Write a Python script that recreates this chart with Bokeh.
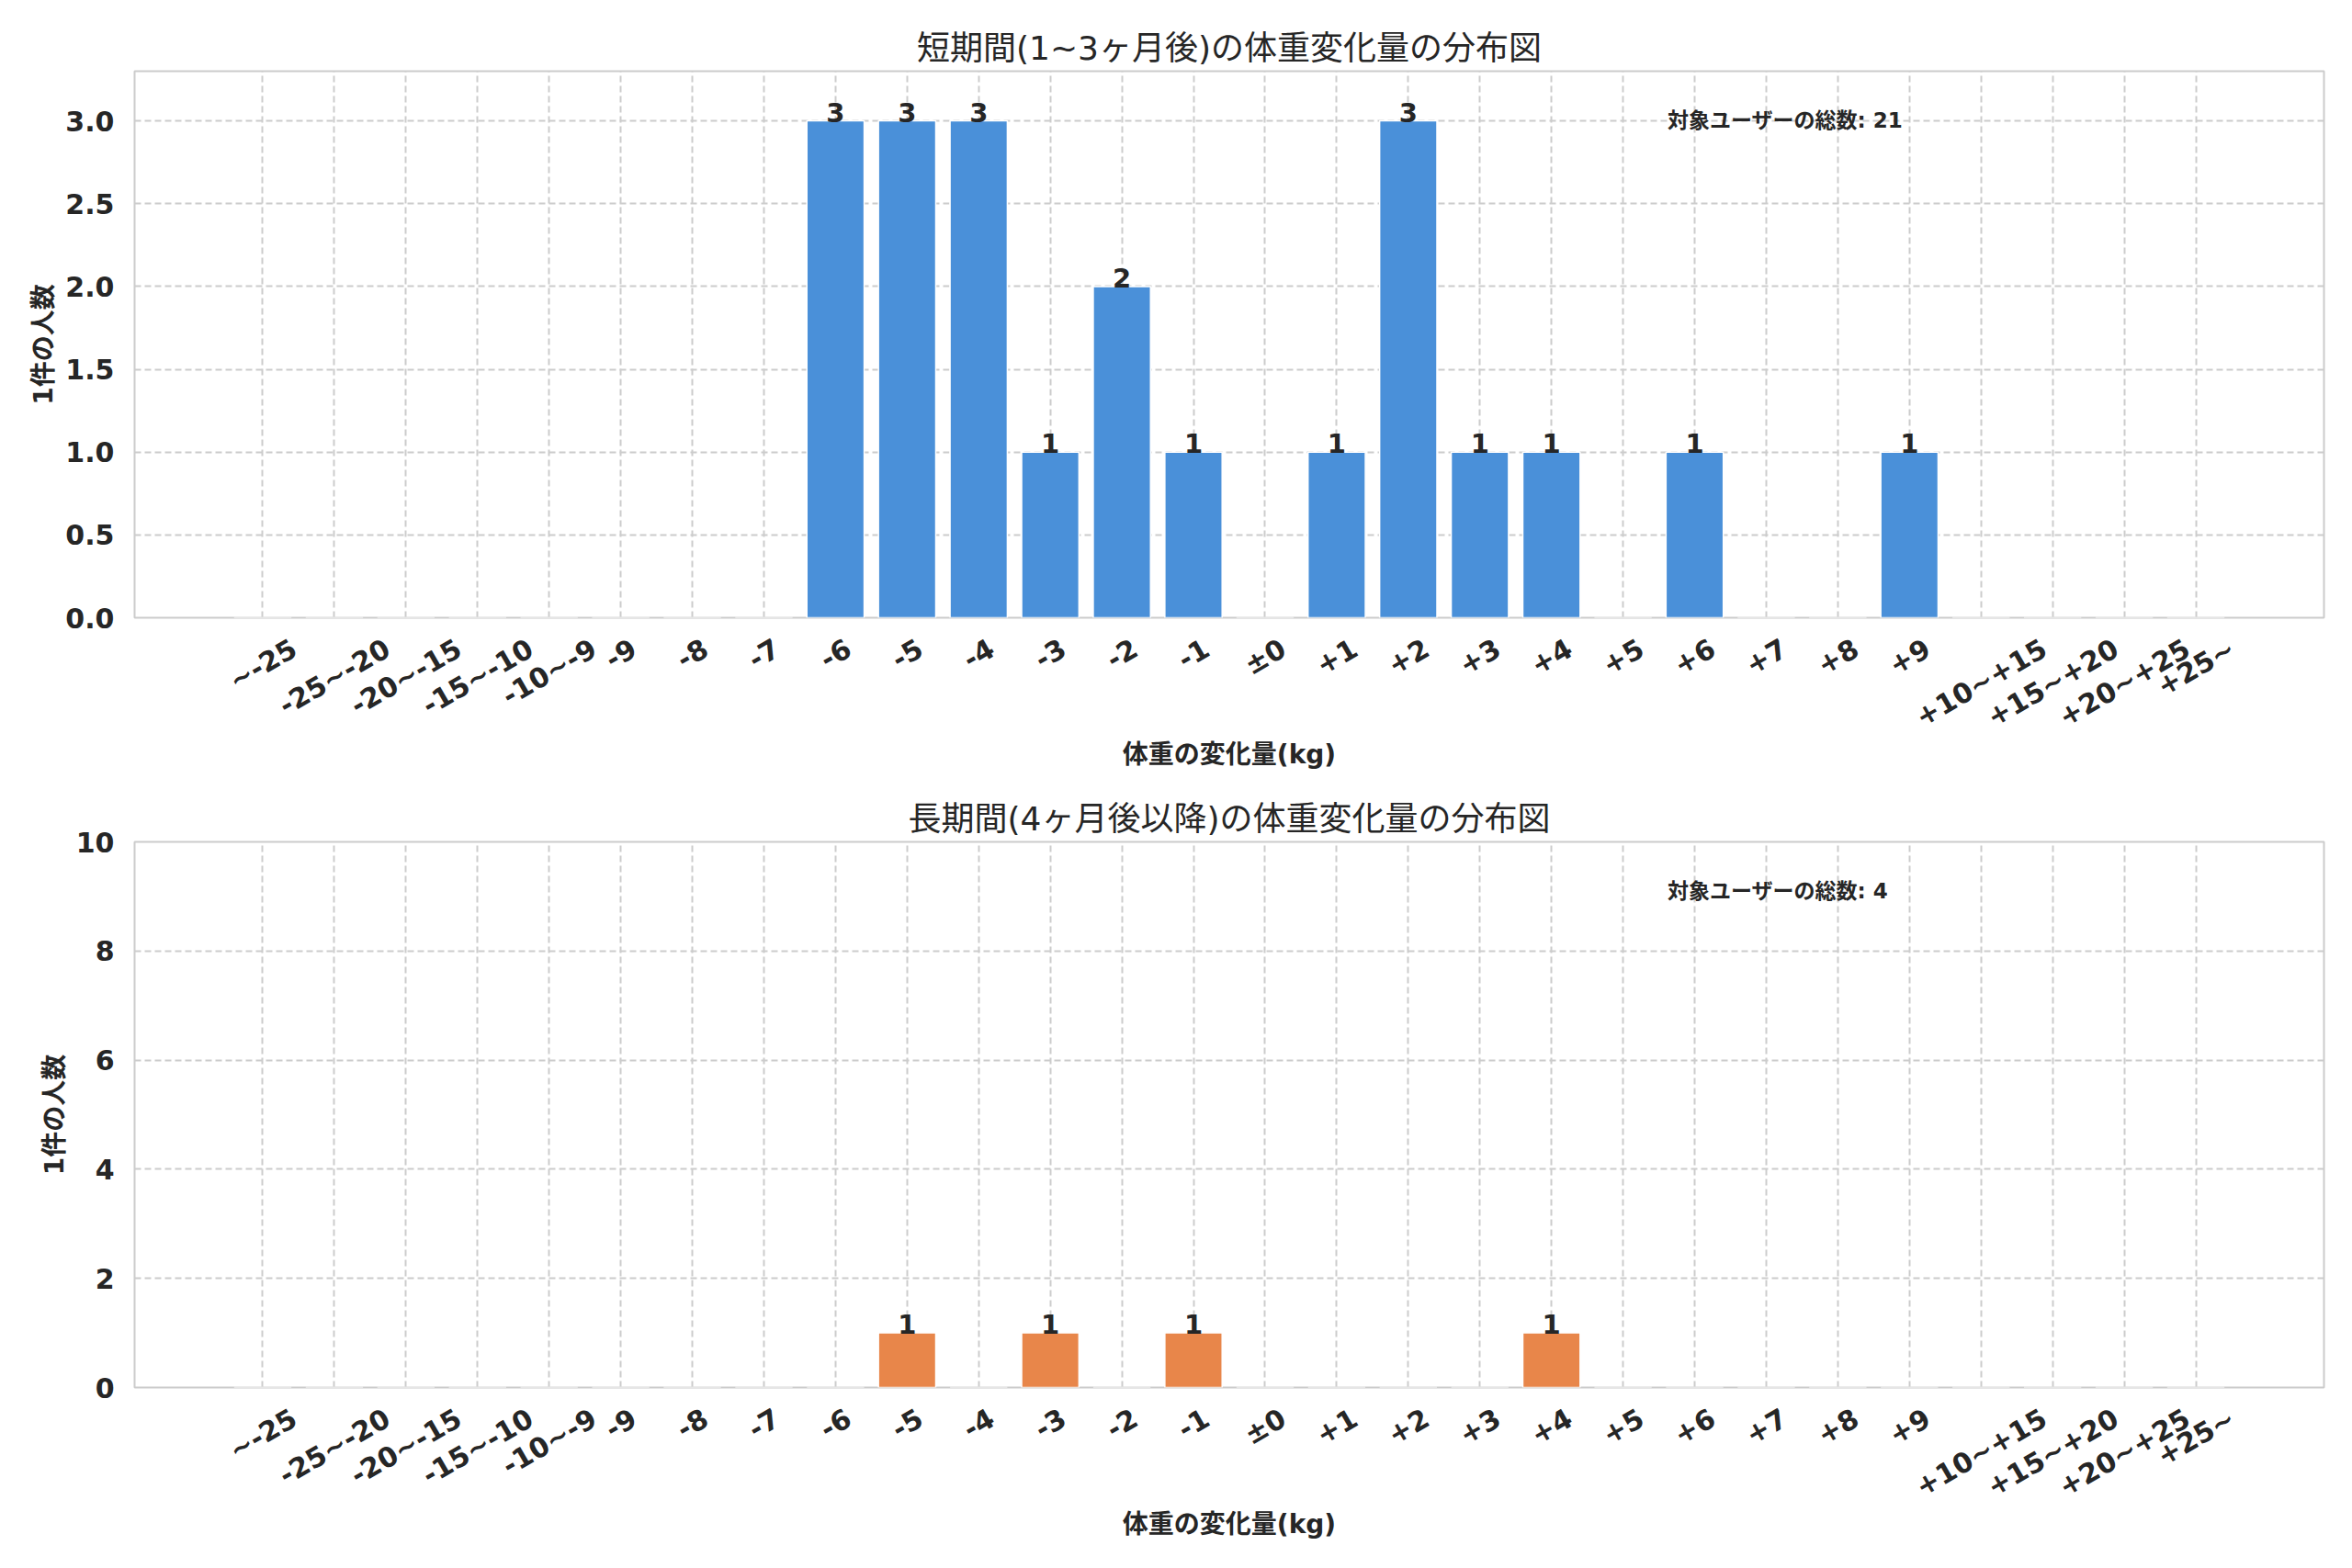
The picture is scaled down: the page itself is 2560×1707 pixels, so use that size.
import math
from bokeh.plotting import figure
from bokeh.models import (Range1d, FixedTicker, Label, ColumnDataSource,
                          NumeralTickFormatter, CustomJSTickFormatter)
from bokeh.layouts import column
from bokeh.embed import file_html
from bokeh.resources import INLINE
from bokeh.core.properties import value

categories = ["~-25", "-25~-20", "-20~-15", "-15~-10", "-10~-9",
              "-9", "-8", "-7", "-6", "-5", "-4", "-3", "-2", "-1", "±0",
              "+1", "+2", "+3", "+4", "+5", "+6", "+7", "+8", "+9",
              "+10~+15", "+15~+20", "+20~+25", "+25~"]
short_counts = [0, 0, 0, 0, 0, 0, 0, 0, 3, 3, 3, 1, 2, 1, 0, 1, 3, 1, 1, 0, 1, 0, 0, 1, 0, 0, 0, 0]
long_counts = [0, 0, 0, 0, 0, 0, 0, 0, 0, 1, 0, 1, 0, 1, 0, 0, 0, 0, 1, 0, 0, 0, 0, 0, 0, 0, 0, 0]

title_short = "短期間(1~3ヶ月後)の体重変化量の分布図"
title_long = "長期間(4ヶ月後以降)の体重変化量の分布図"
x_label = "体重の変化量(kg)"
y_label = "1件の人数"
note_label = "対象ユーザーの総数"
short_ylim = 3.3
long_ylim = 10
short_yticks = [0, 0.5, 1.0, 1.5, 2.0, 2.5, 3.0]
long_yticks = [0, 2, 4, 6, 8, 10]

FONT = "DejaVu Sans, Noto Sans CJK JP"
DARK = "#262626"
GRID = "#cccccc"
TICK_PX = 30
ANGLE = math.pi / 6
FRAME_W = 2383
X_PAD = 1.79

# approximate DejaVu Sans Bold advance widths (em), used to centre the rotated labels
CHAR_EM = {"-": 0.415, "+": 0.838, "~": 0.838, "±": 0.838}


def label_shift(s, px_per_unit):
    w = sum(CHAR_EM.get(ch, 0.696) for ch in s) * TICK_PX
    return 0.5 * w * math.cos(ANGLE) / px_per_unit


def make(counts, color, title, ymax, yticks, fmt, height, top, bottom):
    n = len(categories)
    xs = list(range(n))
    span = (n - 1) + 2 * X_PAD
    ppu = FRAME_W / span
    p = figure(width=2552, height=height,
               x_range=Range1d(-X_PAD, n - 1 + X_PAD), y_range=Range1d(0, ymax),
               output_backend="svg", toolbar_location=None,
               min_border_left=146, min_border_right=23,
               min_border_top=top, min_border_bottom=bottom)
    p.background_fill_color = "white"
    p.border_fill_color = "white"
    p.outline_line_color = GRID
    p.outline_line_width = 2

    p.title.text = title
    p.title.text_font = FONT
    p.title.text_font_size = "36px"
    p.title.text_font_style = "normal"
    p.title.text_color = DARK
    p.title.align = "center"

    src = ColumnDataSource(dict(x=xs, top=counts))
    p.vbar(x="x", top="top", width=0.8, bottom=0, source=src,
           fill_color=color, line_color="white", line_width=1.5)

    lx = [x for x, c in zip(xs, counts) if c > 0]
    ly = [c for c in counts if c > 0]
    lt = [str(c) for c in ly]
    p.text(x=lx, y=ly, text=lt, text_align="center", text_baseline="bottom",
           y_offset=1,
           text_font=value(FONT), text_font_size="29px", text_font_style="bold",
           text_color=DARK)

    p.add_layout(Label(x=19.62, y=0.91 * ymax, text=f"{note_label}: {sum(counts)}",
                       text_align="left", text_baseline="middle",
                       text_font=FONT, text_font_size="23px", text_font_style="bold",
                       text_color=DARK))

    # Bokeh right-aligns rotated labels at their tick; shift the label ticks so that
    # each rotated label ends up centred on its category (as in the reference).
    label_ticks = [x + label_shift(c, ppu) for x, c in zip(xs, categories)]
    p.xaxis.ticker = FixedTicker(ticks=label_ticks)
    p.xaxis.formatter = CustomJSTickFormatter(
        args=dict(pos=label_ticks, labs=categories),
        code="""
        let b = 0;
        for (let i = 0; i < pos.length; i++) {
            if (Math.abs(pos[i] - tick) < Math.abs(pos[b] - tick)) b = i;
        }
        return labs[b];
        """)
    p.xaxis.major_label_orientation = ANGLE
    p.yaxis.ticker = FixedTicker(ticks=yticks)
    p.yaxis.formatter = NumeralTickFormatter(format=fmt)

    for ax in (p.xaxis, p.yaxis):
        ax.axis_line_color = None
        ax.major_tick_line_color = None
        ax.minor_tick_line_color = None
        ax.major_label_text_font = FONT
        ax.major_label_text_font_size = f"{TICK_PX}px"
        ax.major_label_text_font_style = "bold"
        ax.major_label_text_color = DARK
        ax.axis_label_text_font = FONT
        ax.axis_label_text_font_size = "28px"
        ax.axis_label_text_font_style = "bold"
        ax.axis_label_text_color = DARK
    p.xaxis.axis_label = x_label
    p.yaxis.axis_label = y_label
    p.xaxis.major_label_standoff = 25
    p.xaxis.axis_label_standoff = -11
    p.yaxis.major_label_standoff = 16
    p.yaxis.axis_label_standoff = 4

    p.xgrid.ticker = FixedTicker(ticks=xs)
    p.ygrid.ticker = FixedTicker(ticks=yticks)
    for g in (p.xgrid, p.ygrid):
        g.grid_line_color = GRID
        g.grid_line_width = 2
        g.grid_line_dash = "7 4"
    return p


p1 = make(short_counts, "#4a90d9", title_short, short_ylim, short_yticks, "0.0", 850, 77, 178)
p2 = make(long_counts, "#e8864a", title_long, long_ylim, long_yticks, "0", 849, 66, 189)

layout = column(p1, p2, spacing=0)
open("out.html", "w").write(file_html(layout, INLINE))
